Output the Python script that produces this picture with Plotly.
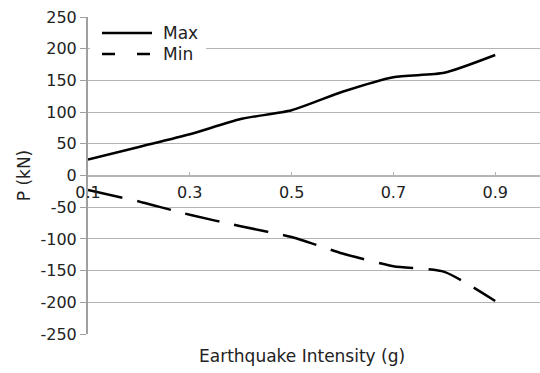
import plotly.graph_objects as go

# Earthquake intensity (g) and the resulting axial force envelope P (kN)
intensity = [0.1, 0.2, 0.3, 0.4, 0.5, 0.6, 0.7, 0.8, 0.9]
p_max = [25, 45, 65, 89, 103, 132, 155, 162, 190]
p_min = [-23, -41, -62, -80, -97, -123, -143, -152, -198]

x_ticks = [0.1, 0.3, 0.5, 0.7, 0.9]
y_ticks = [250, 200, 150, 100, 50, 0, -50, -100, -150, -200, -250]

FONT = "DejaVu Sans, sans-serif"
TEXT = "#222"
GRID = "#b4b4b4"
AXIS = "#a0a0a0"

W, H = 540, 373
M_L, M_R, M_T, M_B = 88, 0, 17, 39
PW, PH = W - M_L - M_R, H - M_T - M_B


def px_x(px):
    """Pixel column -> paper x."""
    return (px - M_L) / PW


def px_y(py):
    """Pixel row -> paper y."""
    return (H - M_B - py) / PH


series = [
    ("Max", p_max, "solid"),
    ("Min", p_min, "35px,15px"),
]

fig = go.Figure()
for name, vals, dash in series:
    fig.add_trace(go.Scatter(
        x=intensity, y=vals, name=name, mode="lines", showlegend=False,
        line=dict(color="black", width=2.5, shape="spline", smoothing=0.6,
                  dash=dash),
    ))

# Legend box drawn in the upper-left corner of the plot
shapes = [dict(type="rect", xref="paper", yref="paper",
               x0=px_x(90), x1=px_x(206), y0=px_y(66), y1=px_y(20),
               fillcolor="white", line=dict(width=0), layer="above")]
annotations = []
legend_rows = [33, 54]
legend_dash = ["solid", "13px,22px"]
for (name, _, _), row, ldash in zip(series, legend_rows, legend_dash):
    shapes.append(dict(type="line", xref="paper", yref="paper",
                       x0=px_x(102), x1=px_x(152), y0=px_y(row), y1=px_y(row),
                       line=dict(color="black", width=2.5, dash=ldash),
                       layer="above"))
    annotations.append(dict(text=name, xref="paper", yref="paper",
                            x=px_x(161), y=px_y(row), xanchor="left",
                            yanchor="middle", showarrow=False,
                            font=dict(family=FONT, size=17, color=TEXT)))

annotations.append(dict(
    text="Earthquake Intensity (g)", xref="paper", yref="paper",
    x=px_x(302), y=px_y(356), xanchor="center", yanchor="middle",
    showarrow=False, font=dict(family=FONT, size=17, color=TEXT),
))

fig.update_layout(
    width=W, height=H,
    margin=dict(l=M_L, r=M_R, t=M_T, b=M_B),
    paper_bgcolor="white", plot_bgcolor="white",
    font=dict(family=FONT, size=16, color=TEXT),
    showlegend=False,
    xaxis=dict(
        range=[0.1, 0.988], tickvals=x_ticks, ticktext=[str(v) for v in x_ticks],
        anchor="free", position=0.5,
        showgrid=False, zeroline=False,
        showline=True, linecolor=GRID, linewidth=1.5,
        ticks="inside", ticklen=3, tickcolor=GRID,
        ticklabelstandoff=3,
        tickfont=dict(family=FONT, size=16, color=TEXT),
    ),
    yaxis=dict(
        range=[-250, 250], tickvals=y_ticks,
        ticktext=[str(v) for v in y_ticks],
        showgrid=True, gridcolor=GRID, gridwidth=1.2,
        zeroline=False,
        showline=True, linecolor=AXIS, linewidth=2,
        ticks="outside", ticklen=6, tickcolor=AXIS,
        tickfont=dict(family=FONT, size=16, color=TEXT),
        title=dict(text="P (kN)", font=dict(family=FONT, size=17, color=TEXT),
                   standoff=6),
    ),
    shapes=shapes,
    annotations=annotations,
)

fig.write_html("out.html")
